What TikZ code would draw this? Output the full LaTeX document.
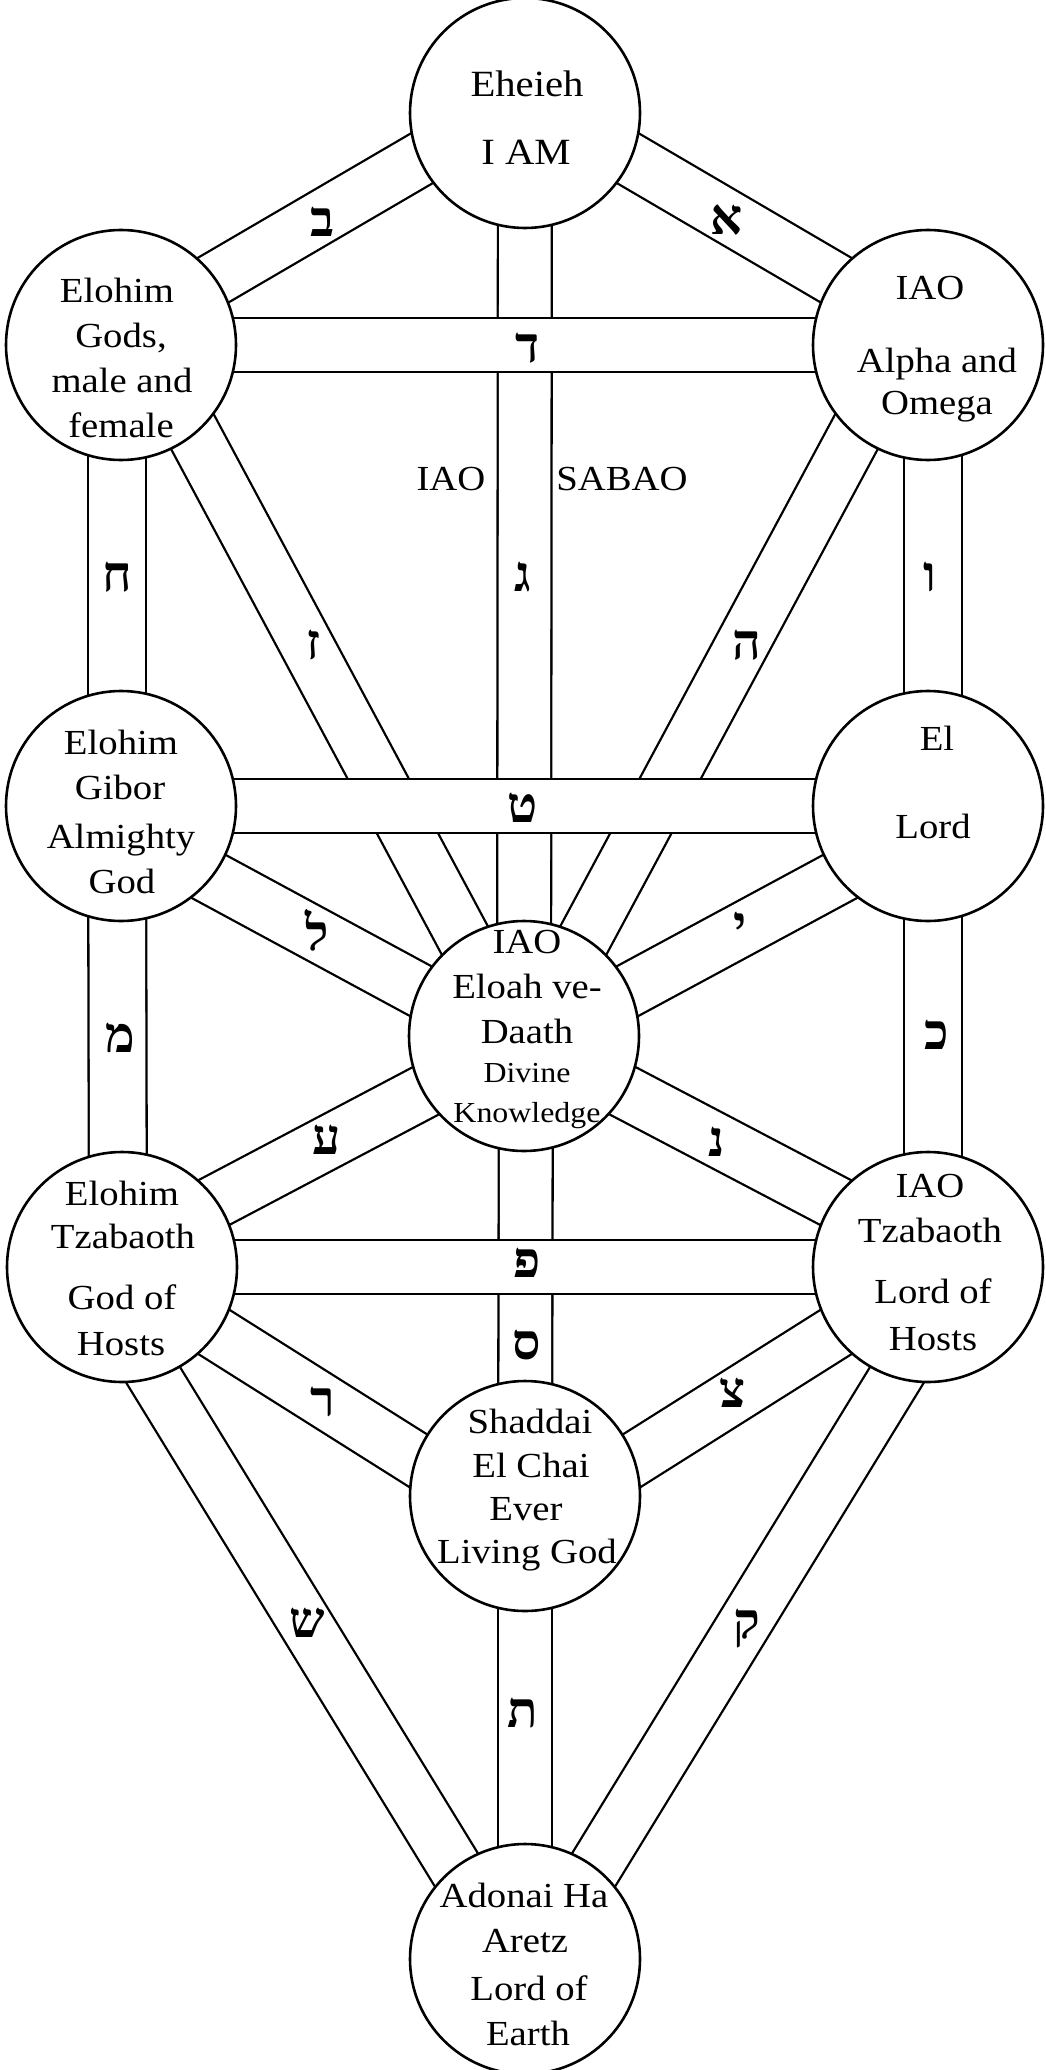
\documentclass[tikz,border=0pt]{standalone}
\usepackage{fontspec}
\setmainfont[FakeStretch=1.1]{Liberation Serif}
\newfontfamily\hebfont[Script=Hebrew]{Liberation Serif}
\usetikzlibrary{calc}
\pgfdeclarelayer{bg}
\pgfdeclarelayer{paths}
\pgfsetlayers{bg,paths,main}
\begin{document}
\begin{tikzpicture}[x=0.5pt,y=-0.5pt,
  sephira/.style={circle, draw, line width=1.3pt, fill=white, minimum size=115pt, inner sep=0pt},
  band/.style={draw, line width=1.15pt, double=white, double distance=25.8pt},
  sideband/.style={band, double distance=27.8pt},
  lbl/.style={anchor=base, inner sep=0pt, font=\fontsize{17.6}{20}\selectfont},
  lblbig/.style={lbl, font=\fontsize{18.5}{21}\selectfont},
  lblsm/.style={lbl, font=\fontsize{14.5}{17}\selectfont},
  heb/.style={inner sep=0pt, font=\hebfont\bfseries\fontsize{25}{27}\selectfont},
]
\begin{pgfonlayer}{bg}
\fill[white] (0,0) rectangle (1045,2070);
\end{pgfonlayer}
\useasboundingbox (0,0) rectangle (1045,2070);

% sephiroth
\node[sephira] (kether)  at (525,113)  {};
\node[sephira] (binah)   at (121,345)  {};
\node[sephira] (chokmah) at (928,345)  {};
\node[sephira] (geburah) at (121,806)  {};
\node[sephira] (chesed)  at (928,806)  {};
\node[sephira] (tiph)    at (524,1036) {};
\node[sephira] (hod)     at (122,1267) {};
\node[sephira] (netz)    at (928,1267) {};
\node[sephira] (yesod)   at (525,1496) {};
\node[sephira] (malk)    at (525,1959) {};

% paths
\begin{pgfonlayer}{paths}
\draw[band] ($(binah.center)+(0,-11)$) -- ($(kether.center)+(0,-15)$);
\draw[band] ($(chokmah.center)+(0,-11)$) -- ($(kether.center)+(0,-15)$);
\draw[band] (kether.center) -- (tiph.center);
\draw[band] ($(binah.center)+(25,0)$) -- ($(tiph.center)+(-8,0)$);
\draw[band] ($(chokmah.center)+(-25,0)$) -- ($(tiph.center)+(8,0)$);
\draw[sideband] ($(binah.center)+(-4,0)$) -- ($(geburah.center)+(-4,0)$);
\draw[sideband] ($(chokmah.center)+(5,0)$) -- ($(chesed.center)+(5,0)$);
\draw[sideband] ($(geburah.center)+(-4,0)$) -- ($(hod.center)+(-4,0)$);
\draw[sideband] ($(chesed.center)+(5,0)$) -- ($(netz.center)+(5,0)$);
\draw[band] ($(geburah.center)+(0,23)$) -- ($(tiph.center)+(0,11)$);
\draw[band] ($(chesed.center)+(0,23)$) -- ($(tiph.center)+(0,11)$);
\draw[band] ($(hod.center)+(0,-16)$) -- ($(tiph.center)+(0,3)$);
\draw[band] ($(netz.center)+(0,-16)$) -- ($(tiph.center)+(0,3)$);
\draw[band] ($(tiph.center)+(2,0)$) -- (yesod.center);
\draw[band] ($(hod.center)+(0,7)$) -- ($(yesod.center)+(0,32)$);
\draw[band] ($(netz.center)+(0,7)$) -- ($(yesod.center)+(0,32)$);
\draw[band] ($(hod.center)+(-35,0)$) -- ($(malk.center)+(-14,0)$);
\draw[band] ($(netz.center)+(35,0)$) -- ($(malk.center)+(14,0)$);
\draw[band] (yesod.center) -- (malk.center);
% horizontal paths on top
\draw[band] (binah.center) -- (chokmah.center);
\draw[band] (geburah.center) -- (chesed.center);
\draw[band] (hod.center) -- (netz.center);
\end{pgfonlayer}

% Hebrew letters
\node[heb] (l-beth)   at (323,222)  {ב};
\node[heb] (l-aleph)  at (727,220)  {א};
\node[heb] (l-daleth) at (528,348)  {ד};
\node[heb] (l-gimel)  at (523,577)  {ג};
\node[heb] (l-cheth)  at (117,577)  {ח};
\node[heb] (l-vau)    at (930,577)  {ו};
\node[heb] (l-zain)   at (313,645)  {ז};
\node[heb] (l-he)     at (747,645)  {ה};
\node[heb] (l-teth)   at (523,808)  {ט};
\node[heb] (l-lamed)  at (317,930)  {ל};
\node[heb] (l-yod)    at (740,927)  {י};
\node[heb] (l-mem)    at (120,1038) {מ};
\node[heb] (l-kaph)   at (937,1035) {כ};
\node[heb] (l-ayin)   at (327,1140) {ע};
\node[heb] (l-nun)    at (717,1142) {נ};
\node[heb] (l-pe)     at (527,1263) {פ};
\node[heb] (l-samekh) at (527,1345) {ס};
\node[heb] (l-resh)   at (323,1402) {ר};
\node[heb] (l-tzaddi) at (733,1393) {צ};
\node[heb] (l-shin)   at (307,1623) {ש};
\node[heb] (l-tau)    at (523,1713) {ת};
\node[heb] (l-qoph)   at (747,1629) {ק};

% labels beside the middle path
\node[lbl] (iao)   at (451,490) {IAO};
\node[lbl] (sabao) at (622,490) {SABAO};

% texts
\node[lblbig] (k1) at (527,97)  {Eheieh};
\node[lblbig] (k2) at (526,165) {I AM};

\node[lbl] (b1) at (117,303) {Elohim};
\node[lbl] (b2) at (121,348) {Gods,};
\node[lbl] (b3) at (122,393) {male and};
\node[lbl] (b4) at (121,437) {female};

\node[lbl] (c1) at (930,300) {IAO};
\node[lbl] (c2) at (937,372) {Alpha and};
\node[lbl] (c3) at (937,415) {Omega};

\node[lbl] (g1) at (121,754) {Elohim};
\node[lbl] (g2) at (120,799) {Gibor};
\node[lbl] (g3) at (121,848) {Almighty};
\node[lbl] (g4) at (122,893) {God};

\node[lbl] (h1) at (937,750) {El};
\node[lbl] (h2) at (933,838) {Lord};

\node[lbl] (t1) at (527,953)  {IAO};
\node[lbl] (t2) at (527,998)  {Eloah ve-};
\node[lbl] (t3) at (527,1043) {Daath};
\node[lblsm] (t4) at (527,1082) {Divine};
\node[lblsm] (t5) at (527,1122) {Knowledge};

\node[lbl] (o1) at (122,1205) {Elohim};
\node[lbl] (o2) at (123,1248) {Tzabaoth};
\node[lbl] (o3) at (122,1309) {God of};
\node[lbl] (o4) at (121,1355) {Hosts};

\node[lbl] (n1) at (930,1197) {IAO};
\node[lbl] (n2) at (930,1242) {Tzabaoth};
\node[lbl] (n3) at (933,1303) {Lord of};
\node[lbl] (n4) at (933,1350) {Hosts};

\node[lbl] (y1) at (530,1433) {Shaddai};
\node[lbl] (y2) at (531,1477) {El Chai};
\node[lbl] (y3) at (526,1520) {Ever};
\node[lbl] (y4) at (527,1563) {Living God};

\node[lbl] (m1) at (524,1907) {Adonai Ha};
\node[lbl] (m2) at (525,1952) {Aretz};
\node[lbl] (m3) at (529,2000) {Lord of};
\node[lbl] (m4) at (528,2045) {Earth};
\end{tikzpicture}
\end{document}
